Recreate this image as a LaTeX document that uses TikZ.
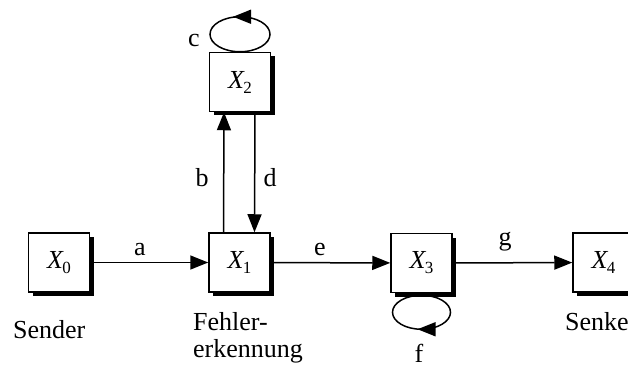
\documentclass[tikz,border=0pt]{standalone}
\usepackage{fontspec}
\setmainfont{Liberation Serif}
\usetikzlibrary{arrows.meta,shadows}

% state label: italic X with a lowered index
\newcommand\statelab[1]{\textit{X}\kern-1.5pt\raisebox{-5pt}{\fontsize{17}{17}\selectfont #1}}

\begin{document}
\begin{tikzpicture}[x=1pt,y=1pt,
  font=\fontsize{26}{27}\selectfont,
  state/.style={draw, line width=1.5pt, fill=white,
    minimum width=61pt, minimum height=59pt, inner sep=0pt,
    drop shadow={shadow xshift=4pt, shadow yshift=-4pt, fill=black, opacity=1}},
  head/.tip={Triangle[length=18pt,width=14pt]},
  conn/.style={line width=1.5pt, -head},
  loopline/.style={line width=1.5pt},
  lbl/.style={inner sep=0pt, anchor=base},
  caption/.style={inner sep=0pt, anchor=base west, align=left}
]
\useasboundingbox (0,0) rectangle (628,367);

% states
\node[state] (x0) at (59,104.5)  {\statelab{0}};
\node[state] (x1) at (239.5,104.5) {\statelab{1}};
\node[state] (x2) at (240,285)   {\statelab{2}};
\node[state] (x3) at (421.5,104) {\statelab{3}};
\node[state] (x4) at (603.5,104.5) {\statelab{4}};

% transitions
\draw[conn] (x0) -- (x1);
\draw[conn] (x1) -- (x3);
\draw[conn] (x3) -- (x4);
\draw[conn] ([xshift=-16pt]x1.north) -- ([xshift=-16pt]x2.south);
\draw[conn] ([xshift=15pt]x2.south) -- ([xshift=15pt]x1.north);

% self loop on X2 (arrow at the top, running to the left)
\coordinate (cc) at ([yshift=17.5pt]x2.north);
\draw[loopline] (cc) ellipse (30 and 17.5);
\draw[conn] ([shift={(6pt,17.5pt)}]cc) -- ([shift={(-7pt,17.5pt)}]cc);

% self loop on X3 (arrow at the bottom, running to the left)
\coordinate (fc) at ([yshift=-19pt]x3.south);
\draw[loopline] (fc) ellipse (29 and 17);
\draw[conn] ([shift={(8pt,-17pt)}]fc) -- ([shift={(-4pt,-17pt)}]fc);

% transition labels
\node[lbl] (la) at (140,112) {a};
\node[lbl] (le) at (320,112) {e};
\node[lbl] (lg) at (505,122) {g};
\node[lbl] (lb) at (202,180) {b};
\node[lbl] (ld) at (270,180) {d};
\node[lbl] (lc) at (194,320) {c};
\node[lbl] (lf) at (419,5) {f};

% state captions
\node[caption] (csend) at (13,29) {Sender};
\node[caption] (cfehl) at (193,37) {Fehler-};
\node[caption] (cerk) at (193,10) {erkennung};
\node[caption] (csenk) at (565,37) {Senke};
\end{tikzpicture}
\end{document}
